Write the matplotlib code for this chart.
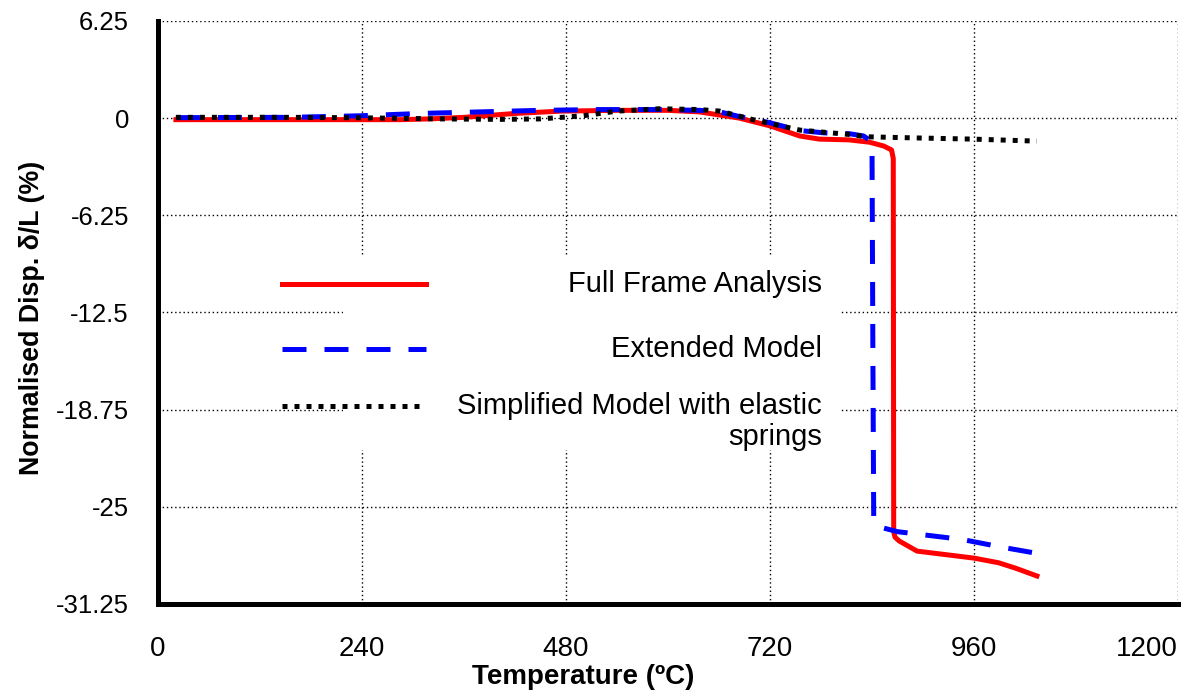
import matplotlib
matplotlib.use("Agg")
import matplotlib.pyplot as plt
from matplotlib.patches import Rectangle
from matplotlib.lines import Line2D

plt.rcParams['font.family'] = ['Liberation Sans', 'DejaVu Sans']

# ---- data ----
ffa_T = [21, 168, 285, 320, 360, 420, 474, 540, 600, 637, 684, 720, 755, 778,
         813, 837, 854, 863, 865, 865.5, 867, 872, 893, 960, 989, 1009, 1034]
ffa_y = [-0.1, -0.1, -0.1, -0.05, 0.05, 0.3, 0.45, 0.5, 0.5, 0.4, 0.0, -0.5,
         -1.15, -1.35, -1.4, -1.55, -1.8, -2.05, -2.6, -26.6, -26.95, -27.2,
         -27.85, -28.3, -28.6, -28.95, -29.45]

ext_T = [21, 156, 238, 309, 379, 450, 520, 590, 637, 661, 684, 720, 755, 784,
         813, 830, 838, 840, 841, 842, 849, 870, 946, 993, 1045]
ext_y = [0.03, 0.05, 0.15, 0.3, 0.4, 0.5, 0.55, 0.55, 0.5, 0.4, 0.1, -0.3,
         -0.8, -0.95, -1.0, -1.15, -1.45, -2.0, -15.0, -25.9, -26.3, -26.6,
         -27.1, -27.6, -28.1]

sim_T = [21, 156, 238, 332, 403, 450, 500, 540, 590, 637, 661, 700, 755, 813,
         833, 896, 958, 1034]
sim_y = [0.05, 0.05, 0.02, -0.05, -0.08, -0.05, 0.15, 0.45, 0.6, 0.55, 0.45,
         -0.1, -0.77, -1.05, -1.2, -1.28, -1.35, -1.48]

labels = ["Full Frame Analysis", "Extended Model",
          "Simplified Model with elastic\nsprings"]
x_ticks = [0, 240, 480, 720, 960, 1200]
y_ticks = [6.25, 0, -6.25, -12.5, -18.75, -25, -31.25]
y_ticklabels = ["6.25", "0", "-6.25", "-12.5", "-18.75", "-25", "-31.25"]

# ---- figure ----
fig = plt.figure(figsize=(11.91, 6.98), dpi=100)
ax = fig.add_axes([0.1327, 0.1347, 0.8564, 0.8353])

ax.set_xlim(0, 1200)
ax.set_ylim(-31.25, 6.25)
ax.set_xticks(x_ticks)
ax.set_xticklabels([str(v) for v in x_ticks])
ax.set_yticks(y_ticks)
ax.set_yticklabels(y_ticklabels)
ax.tick_params(axis='both', length=0, labelsize=18.5)
ax.tick_params(axis='y', pad=21)
ax.tick_params(axis='x', pad=23)
for t in ax.get_xticklabels():
    t.set_family(['Liberation Sans Narrow', 'Liberation Sans', 'DejaVu Sans'])
    t.set_fontsize(20)
xtl = ax.get_xticklabels()
xtl[-1].set_horizontalalignment('right')
xtl[-1].set_x(1200)

ax.set_axisbelow(True)
ax.grid(True, color='black', linestyle=(0, (1, 2)), linewidth=1.0)

for s in ['top', 'right']:
    ax.spines[s].set_visible(False)
for s in ['left', 'bottom']:
    ax.spines[s].set_linewidth(3.6)
    ax.spines[s].set_color('black')

lw = 3.6
styles = [
    dict(color='#FF0000', linestyle='-', solid_joinstyle='round'),
    dict(color='#0000FF', linestyle=(0, (4.8, 3.6)), dash_capstyle='butt'),
    dict(color='black', linestyle=(0, (1, 1.4)), dash_capstyle='butt'),
]
series = [(ffa_T, ffa_y), (ext_T, ext_y), (sim_T, sim_y)]
for (T, y), st in zip(series, styles):
    ax.plot(T, y, lw=lw, zorder=3, **st)

# legend (white box without border, right-aligned labels)
ax.add_patch(Rectangle((0.181, 0.264), 0.488, 0.335, transform=ax.transAxes,
                       facecolor='white', edgecolor='none', zorder=1))
leg_y = [0.5489, 0.4374, 0.3396]
for st, yy, lab in zip(styles, leg_y, labels):
    ax.add_line(Line2D([0.1216, 0.2627], [yy, yy], transform=ax.transAxes,
                       lw=lw, zorder=4, **st))
    if '\n' in lab:
        ax.text(0.651, 0.3636, lab, transform=ax.transAxes, ha='right', va='top',
                multialignment='right', fontsize=21, linespacing=1.15, zorder=5)
    else:
        ax.text(0.651, yy, lab, transform=ax.transAxes, ha='right', va='center',
                fontsize=21, zorder=5)

ax.set_xlabel("Temperature (ºC)", fontsize=20, fontweight='bold')
ax.xaxis.set_label_coords(0.417, -0.103)
ax.set_ylabel("Normalised Disp. δ/L (%)", fontsize=19.3, fontweight='bold')
ax.yaxis.set_label_coords(-0.111, 0.49)

fig.savefig("out.png", dpi=100)
